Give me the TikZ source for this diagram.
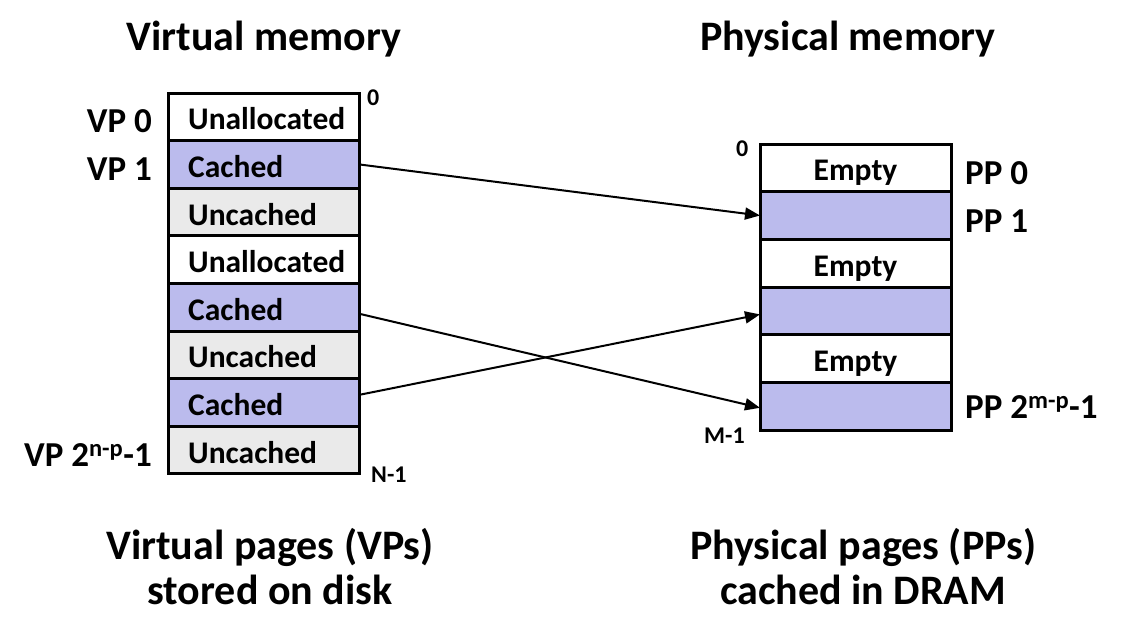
\documentclass[tikz,border=0pt]{standalone}
\usepackage{fontspec}
\setmainfont{Carlito}
\usetikzlibrary{arrows.meta}
\definecolor{cachedblue}{RGB}{187,187,237}
\definecolor{uncgray}{RGB}{234,234,234}
\begin{document}
\begin{tikzpicture}[x=1pt,y=-1pt,
  cellbox/.style={draw=black, line width=3pt, minimum width=191pt, minimum height=47.6pt, inner sep=0pt, outer sep=0pt},
  whitecell/.style={cellbox, fill=white},
  bluecell/.style={cellbox, fill=cachedblue},
  graycell/.style={cellbox, fill=uncgray},
  celltext/.style={font=\fontsize{31.5}{36}\selectfont\bfseries, inner sep=0pt},
  sidelabel/.style={font=\fontsize{35}{40}\selectfont\bfseries, inner sep=0pt},
  smalllabel/.style={font=\fontsize{24}{28}\selectfont\bfseries, inner sep=0pt},
  titletext/.style={font=\fontsize{42}{46}\selectfont\bfseries, inner sep=0pt, align=center},
  maparrow/.style={line width=2pt, -{Triangle[length=15pt,width=12pt]}}
]
\useasboundingbox (0,0) rectangle (1147,616);

% titles
\node[titletext, anchor=base] (vtitle) at (264,50) {Virtual memory};
\node[titletext, anchor=base] (ptitle) at (848,50) {Physical memory};

% virtual memory column
\node[whitecell] (v1) at (263.5,116.8) {};
\node[bluecell]  (v2) at (263.5,164.4) {};
\node[graycell]  (v3) at (263.5,212.0) {};
\node[whitecell] (v4) at (263.5,259.6) {};
\node[bluecell]  (v5) at (263.5,307.2) {};
\node[graycell]  (v6) at (263.5,354.8) {};
\node[bluecell]  (v7) at (263.5,402.4) {};
\node[graycell]  (v8) at (263.5,450.0) {};

\node[celltext, anchor=base west] (vt1) at ([xshift=20pt,yshift=-13pt]v1.west) {Unallocated};
\node[celltext, anchor=base west] (vt2) at ([xshift=20pt,yshift=-13pt]v2.west) {Cached};
\node[celltext, anchor=base west] (vt3) at ([xshift=20pt,yshift=-13pt]v3.west) {Uncached};
\node[celltext, anchor=base west] (vt4) at ([xshift=20pt,yshift=-13pt]v4.west) {Unallocated};
\node[celltext, anchor=base west] (vt5) at ([xshift=20pt,yshift=-13pt]v5.west) {Cached};
\node[celltext, anchor=base west] (vt6) at ([xshift=20pt,yshift=-13pt]v6.west) {Uncached};
\node[celltext, anchor=base west] (vt7) at ([xshift=20pt,yshift=-13pt]v7.west) {Cached};
\node[celltext, anchor=base west] (vt8) at ([xshift=20pt,yshift=-13pt]v8.west) {Uncached};

\node[sidelabel, anchor=base east] (vp0) at (152,132) {VP 0};
\node[sidelabel, anchor=base east] (vp1) at (152,180) {VP 1};
\node[sidelabel, anchor=base east] (vpn) at (152,466) {VP 2\textsuperscript{n-p}-1};

\node[smalllabel, anchor=base west] (vzero) at (367,105) {0};
\node[smalllabel, anchor=base west] (vnm) at (371,482) {N-1};

% physical memory column
\node[whitecell] (p1) at (855.5,167.8) {};
\node[bluecell]  (p2) at (855.5,215.5) {};
\node[whitecell] (p3) at (855.5,263.2) {};
\node[bluecell]  (p4) at (855.5,310.9) {};
\node[whitecell] (p5) at (855.5,358.6) {};
\node[bluecell]  (p6) at (855.5,406.3) {};

\node[celltext, anchor=base] (pt1) at ([yshift=-13pt]p1.center) {Empty};
\node[celltext, anchor=base] (pt3) at ([yshift=-13pt]p3.center) {Empty};
\node[celltext, anchor=base] (pt5) at ([yshift=-13pt]p5.center) {Empty};

\node[sidelabel, anchor=base west] (pp0) at (965,184) {PP 0};
\node[sidelabel, anchor=base west] (pp1) at (965,232) {PP 1};
\node[sidelabel, anchor=base west] (ppm) at (965,418) {PP 2\textsuperscript{m-p}-1};

\node[smalllabel, anchor=base west] (pzero) at (736,156) {0};
\node[smalllabel, anchor=base west] (pmm) at (704,443) {M-1};

% mapping arrows
\draw[maparrow] (v2.east) -- (p2.west);
\draw[maparrow] ([yshift=-6.5pt]v5.east) -- ([yshift=-1.5pt]p6.west);
\draw[maparrow] ([yshift=7.5pt]v7.east) -- ([yshift=-3.5pt]p4.west);

% bottom captions
\node[titletext, anchor=base] (vcap1) at (270,559) {Virtual pages (VPs)};
\node[titletext, anchor=base] (vcap2) at (270,604) {stored on disk};
\node[titletext, anchor=base] (pcap1) at (863,559) {Physical pages (PPs)};
\node[titletext, anchor=base] (pcap2) at (863,604) {cached in DRAM};
\end{tikzpicture}
\end{document}
